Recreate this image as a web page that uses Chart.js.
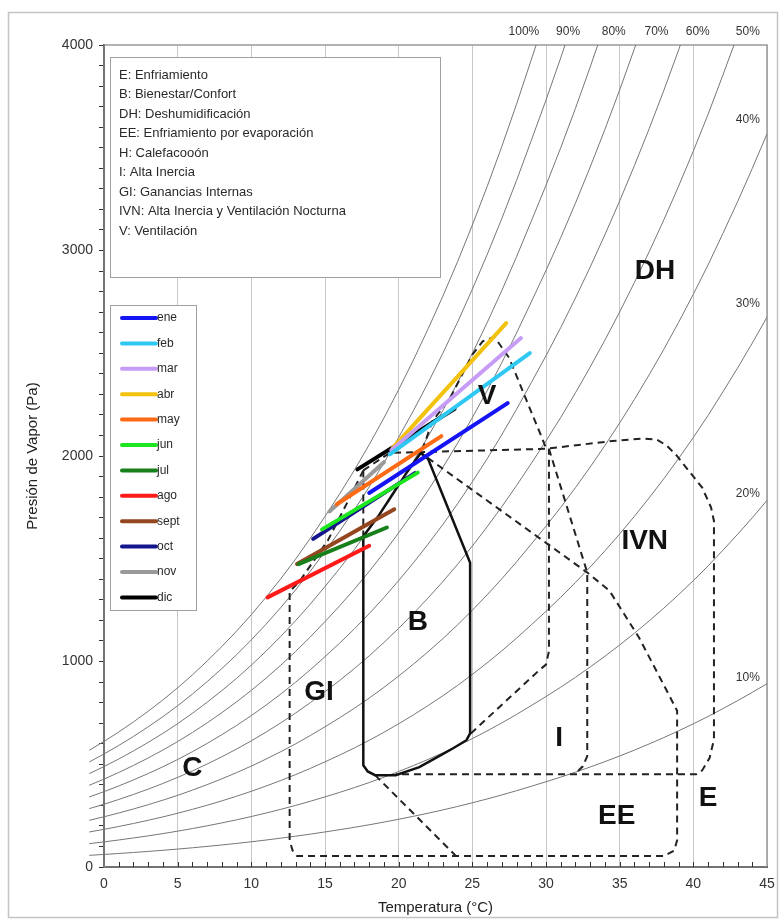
<!DOCTYPE html>
<html>
<head>
<meta charset="utf-8">
<script src="https://cdn.jsdelivr.net/npm/chart.js@4.4.1/dist/chart.umd.min.js"></script>
<style>
  html, body { margin: 0; padding: 0; background: #fff; }
  #wrap { width: 784px; height: 922px; position: relative; }
</style>
</head>
<body>
<div id="wrap"><canvas id="chart"></canvas></div>
<script>
// saturation curve (100%), Pa
const satT = [-1,0,1,2,3,4,5,6,7,8,9,10,11,12,13,14,15,16,17,18,19,20,21,22,23,24,25,26,27,28,29,30,31,32,33,34,35,36,37,38,39,40,41,42,43,44,45];
const satP = [568,611,657,706,758,813,872,935,1002,1073,1148,1228,1313,1403,1498,1599,1706,1816,1932,2055,2185,2323,2467,2619,2778,2946,3124,3310,3506,3712,3928,4147,4375,4615,4866,5128,5402,5688,5987,6299,6626,6968,7325,7705,8093,8498,8919];
const rhLevels = [100, 90, 80, 70, 60, 50, 40, 30, 20, 10];
const rhLabelT = [28.5, 31.5, 34.6, 37.5, 40.3, 43.7, 43.7, 43.7, 43.7, 43.7];
const rhLabelP = [4063, 4063, 4063, 4063, 4063, 4063, 3636, 2743, 1816, 922];

// monthly lines
const monthNames = ["ene", "feb", "mar", "abr", "may", "jun", "jul", "ago", "sept", "oct", "nov", "dic"];
const monthColors = ["#1414f5", "#2ec8f2", "#c79cf7", "#f2c20f", "#ff6a14", "#1ee61e", "#17801a", "#ff1a1a", "#94461e", "#14148c", "#9a9a9a", "#000000"];
const monthStartT = [18.0, 19.4, 19.5, 19.6, 15.8, 14.8, 13.2, 11.1, 13.1, 14.2, 15.3, 17.2];
const monthStartP = [1820, 2008, 2028, 2040, 1765, 1643, 1474, 1312, 1474, 1597, 1730, 1935];
const monthEndT = [27.4, 28.9, 28.3, 27.3, 22.9, 21.3, 19.2, 18.0, 19.7, 21.1, 19.0, 23.8];
const monthEndP = [2257, 2501, 2574, 2647, 2097, 1919, 1652, 1563, 1741, 1917, 1970, 2230];

// comfort zone B (solid)
const zoneB = [[17.6,1610],[18.6,1705],[19.6,1815],[20.6,1925],[21.5,2015],[22.0,1985],[24.85,1480],[24.85,650],[24.6,617],[23.7,578],[22.5,530],[21.4,486],[19.8,447],[18.4,447],[17.9,465],[17.6,495],[17.6,1610]];
// dashed zone outlines
const zoneGIEE = [[17.6,1930],[16.7,1800],[15.2,1590],[13.3,1393],[12.6,1340],[12.6,130],[12.8,80],[13.1,53],[38.0,53],[38.7,80],[38.9,130],[38.9,760],[38.4,830],[36.3,1118],[34.3,1345],[32.8,1433],[21.6,2010]];
const zoneV = [[21.6,2030],[22.3,2170],[23.5,2283],[25.0,2493],[25.7,2558],[26.5,2580],[27.5,2477],[28.7,2267],[30.0,2040]];
const zoneIVN = [[17.6,1930],[19.4,2015],[30.0,2035],[34.5,2073],[36.5,2085],[37.5,2081],[38.2,2050],[38.8,2008],[40.6,1846],[41.2,1750],[41.4,1684],[41.4,620],[41.1,530],[40.6,470],[40.2,451],[19.8,451]];
const zoneGIleft = [[17.6,1930],[17.6,1610]];
const zoneEEleft = [[18.4,447],[23.9,53]];
const zoneI1 = [[24.9,650],[29.5,955],[30.0,985],[30.2,1050],[30.2,2035]];
const zoneI2 = [[30.2,2035],[32.8,1433],[32.8,540],[32.5,490],[32.0,455]];

const zoneNames = ["DH", "V", "IVN", "B", "GI", "I", "C", "EE", "E"];
const zoneLabelT = [37.4, 26.0, 36.7, 21.3, 14.6, 30.9, 6.0, 34.8, 41.0];
const zoneLabelP = [2898, 2291, 1587, 1189, 850, 626, 481, 248, 335];

const keyLines = [
  "E: Enfriamiento",
  "B: Bienestar/Confort",
  "DH: Deshumidificación",
  "EE: Enfriamiento por evaporación",
  "H: Calefacooón",
  "I: Alta Inercia",
  "GI: Ganancias Internas",
  "IVN: Alta Inercia y Ventilación Nocturna",
  "V: Ventilación"
];

const FONT = '"Liberation Sans", Arial, sans-serif';
Chart.defaults.font.family = FONT;
Chart.defaults.color = "#222";

const toPts = arr => arr.map(p => ({ x: p[0], y: p[1] }));

const datasets = [];
monthNames.forEach((m, i) => {
  datasets.push({
    label: m,
    data: [{ x: monthStartT[i], y: monthStartP[i] }, { x: monthEndT[i], y: monthEndP[i] }],
    borderColor: monthColors[i],
    borderWidth: 4,
    borderCapStyle: "round",
    showLine: true,
    pointRadius: 0
  });
});
datasets.push({ label: "B", data: toPts(zoneB), borderColor: "#111", borderWidth: 2.5, showLine: true, pointRadius: 0 });
[zoneGIEE, zoneV, zoneIVN, zoneGIleft, zoneEEleft, zoneI1, zoneI2].forEach((z, i) => {
  datasets.push({
    label: "zona" + i,
    data: toPts(z),
    borderColor: "#222",
    borderWidth: 2,
    borderDash: [7, 5],
    showLine: true,
    pointRadius: 0
  });
});
rhLevels.forEach(rh => {
  datasets.push({
    label: rh + "%",
    data: satT.map((t, i) => ({ x: t, y: satP[i] * rh / 100 })),
    borderColor: "#767676",
    borderWidth: 1,
    showLine: true,
    pointRadius: 0,
    clip: { left: 16, top: 0, right: 0, bottom: 0 }
  });
});

const decor = {
  id: "decor",
  beforeDraw(chart) {
    const ctx = chart.ctx;
    ctx.save();
    ctx.strokeStyle = "#c4c4c4";
    ctx.lineWidth = 1.5;
    ctx.strokeRect(8.5, 12.5, 769, 905);
    ctx.restore();
  },
  beforeDatasetsDraw(chart) {
    const ctx = chart.ctx, a = chart.chartArea;
    ctx.save();
    ctx.strokeStyle = "#9a9a9a";
    ctx.lineWidth = 1.5;
    ctx.strokeRect(a.left, a.top, a.right - a.left, a.bottom - a.top);

    // key box
    const kx = a.left + 6, ky = a.top + 12;
    ctx.fillStyle = "#fff";
    ctx.fillRect(kx, ky, 330, 220);
    ctx.strokeStyle = "#a0a0a0";
    ctx.lineWidth = 1;
    ctx.strokeRect(kx + 0.5, ky + 0.5, 330, 220);
    ctx.fillStyle = "#2a2a2a";
    ctx.font = "13px " + FONT;
    ctx.textBaseline = "middle";
    keyLines.forEach((t, i) => ctx.fillText(t, kx + 9, ky + 18 + i * 19.5));

    // month legend box
    const lx = a.left + 6, ly = a.top + 260;
    ctx.fillStyle = "#fff";
    ctx.fillRect(lx, ly, 86, 305);
    ctx.strokeStyle = "#a0a0a0";
    ctx.strokeRect(lx + 0.5, ly + 0.5, 86, 305);
    ctx.font = "12px " + FONT;
    monthNames.forEach((m, i) => {
      const yy = ly + 13 + i * 25.4;
      ctx.strokeStyle = monthColors[i];
      ctx.lineWidth = 4;
      ctx.lineCap = "round";
      ctx.beginPath();
      ctx.moveTo(lx + 12, yy);
      ctx.lineTo(lx + 46, yy);
      ctx.stroke();
      ctx.fillStyle = "#2a2a2a";
      ctx.fillText(m, lx + 47, yy);
    });
    ctx.restore();
  },
  afterDraw(chart) {
    const ctx = chart.ctx, a = chart.chartArea;
    const xs = chart.scales.x, ys = chart.scales.y;
    ctx.save();
    // inward minor ticks on the x axis
    ctx.strokeStyle = "#333";
    ctx.lineWidth = 1;
    for (let t = 1; t < 45; t++) {
      const px = Math.round(xs.getPixelForValue(t)) + 0.5;
      ctx.beginPath();
      ctx.moveTo(px, a.bottom);
      ctx.lineTo(px, a.bottom - 5);
      ctx.stroke();
    }
    // RH labels
    ctx.fillStyle = "#333";
    ctx.font = "12px " + FONT;
    ctx.textAlign = "center";
    ctx.textBaseline = "middle";
    rhLevels.forEach((rh, i) => ctx.fillText(rh + "%", xs.getPixelForValue(rhLabelT[i]), ys.getPixelForValue(rhLabelP[i])));
    // zone letters
    ctx.fillStyle = "#111";
    ctx.font = "bold 28px " + FONT;
    zoneNames.forEach((n, i) => ctx.fillText(n, xs.getPixelForValue(zoneLabelT[i]), ys.getPixelForValue(zoneLabelP[i])));
    ctx.restore();
  }
};

new Chart(document.getElementById("chart"), {
  type: "scatter",
  data: { datasets: datasets },
  options: {
    responsive: true,
    maintainAspectRatio: false,
    animation: false,
    layout: { padding: { left: 24, top: 45, right: 17, bottom: 0 } },
    plugins: { legend: { display: false }, tooltip: { enabled: false } },
    scales: {
      x: {
        type: "linear",
        min: 0,
        max: 45,
        afterFit(scale) { scale.height = 55; },
        border: { color: "#000", width: 2 },
        grid: {
          drawTicks: false,
          color: c => (c.tick && c.tick.value % 5 === 0 ? "#c6c6c6" : "rgba(0,0,0,0)")
        },
        ticks: {
          stepSize: 1,
          autoSkip: false,
          maxRotation: 0,
          padding: 9,
          font: { size: 14 },
          color: "#333",
          callback: v => (v % 5 === 0 ? v : "")
        },
        title: { display: true, text: "Temperatura (°C)", font: { size: 15 }, color: "#222", padding: { top: 0, bottom: 5 } }
      },
      y: {
        type: "linear",
        min: 0,
        max: 4000,
        afterFit(scale) { scale.width = 80; },
        border: { color: "#000", width: 2 },
        grid: { drawOnChartArea: false, drawTicks: true, tickLength: 5, tickColor: "#333" },
        ticks: {
          stepSize: 100,
          autoSkip: false,
          padding: 6,
          font: { size: 14 },
          color: "#333",
          callback: v => (v % 1000 === 0 ? v : "")
        },
        title: { display: true, text: "Presión de Vapor (Pa)", font: { size: 15 }, color: "#222", padding: { top: 0, bottom: 4 } }
      }
    }
  },
  plugins: [decor]
});
</script>
</body>
</html>
